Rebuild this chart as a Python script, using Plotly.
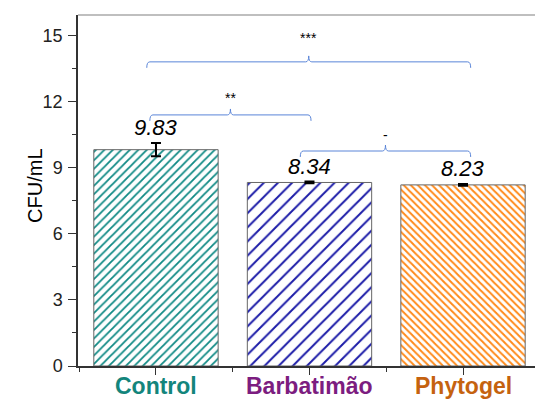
import plotly.graph_objects as go

categories = ["Control", "Barbatimão", "Phytogel"]
values = [9.83, 8.34, 8.23]
errors = [0.30, 0.04, 0.04]
label_colors = ["#13857C", "#7C1D80", "#C5620F"]
hatch_colors = ["#108A85", "#1C1CA8", "#FF8A1A"]
hatch_shapes = ["/", "/", "\\"]
hatch_sizes = [6, 10, 5]
hatch_solidity = [0.3, 0.2, 0.4]
# significance comparisons: (start x, end x, bracket level, label)
comparisons = [(-0.06, 2.05, 13.82, "***"), (-0.04, 1.01, 11.41, "**"), (0.94, 2.05, 9.77, "-")]
comparison_label_y = [14.9, 12.2, 10.5]
yticks = [0, 3, 6, 9, 12, 15]

xs = list(range(len(categories)))
fig = go.Figure()
for i in xs:
    fig.add_trace(go.Bar(
        x=[i], y=[values[i]], width=0.81,
        marker=dict(color="white",
                    line=dict(color="#666666", width=1),
                    pattern=dict(shape=hatch_shapes[i], fgcolor=hatch_colors[i],
                                 bgcolor="white", size=hatch_sizes[i],
                                 solidity=hatch_solidity[i],
                                 fgopacity=1, fillmode="replace")),
        error_y=dict(type="data", array=[errors[i]], color="black", thickness=2, width=5),
        showlegend=False, hoverinfo="skip"))
    fig.add_annotation(x=i, y=values[i] + errors[i], text=f"<i>{values[i]:.2f}</i>",
                       showarrow=False, yanchor="bottom", yshift=1,
                       font=dict(family="Arial, Liberation Sans", size=22, color="black"))
    fig.add_annotation(x=i, y=0, text=f"<b>{categories[i]}</b>", showarrow=False,
                       yanchor="top", yshift=-5,
                       font=dict(family="Arial, Liberation Sans", size=23, color=label_colors[i]))

bcol = "#5A85D8"
h = 0.27
r = 0.02
for (x0, x1, y, lab), ly in zip(comparisons, comparison_label_y):
    xc = (x0 + x1) / 2
    path = (f"M {x0},{y-h} Q {x0},{y} {x0+r},{y} L {xc-r},{y} Q {xc},{y} {xc},{y+h} "
            f"Q {xc},{y} {xc+r},{y} L {x1-r},{y} Q {x1},{y} {x1},{y-h}")
    fig.add_shape(type="path", path=path, xref="x", yref="y",
                  line=dict(color=bcol, width=1))
    fig.add_annotation(x=xc, y=ly, text=lab, showarrow=False,
                       font=dict(family="Arial, Liberation Sans", size=14, color="black"))

fig.add_shape(type="line", xref="paper", yref="paper", x0=0, x1=1, y0=1, y1=1,
              line=dict(color="#aaaaaa", width=1.5))

fig.update_layout(
    width=535, height=399,
    margin=dict(l=78, r=0, t=15, b=33),
    plot_bgcolor="white", paper_bgcolor="white",
    font=dict(family="Arial, Liberation Sans", color="#222222"),
    xaxis=dict(range=[-0.508, 2.469], tickvals=xs, showticklabels=False,
               automargin=False, showline=True, linecolor="#333333", linewidth=1.5,
               ticks="outside", ticklen=7, tickcolor="#333333", showgrid=False,
               zeroline=False,
               minor=dict(tickvals=[-0.5, 0.5, 1.5, 2.5], ticks="outside", ticklen=4,
                          tickcolor="#333333")),
    yaxis=dict(range=[0, 15.95], tickvals=yticks, tickfont=dict(size=18),
               automargin=False,
               showline=True, linecolor="#333333", linewidth=1.5,
               ticks="outside", ticklen=8, tickcolor="#333333", showgrid=False,
               zeroline=False, ticklabelstandoff=2,
               minor=dict(tickvals=[1.5, 4.5, 7.5, 10.5, 13.5], ticks="outside",
                          ticklen=4, tickcolor="#333333")),
)
fig.add_annotation(xref="paper", yref="paper", x=(22 - 78) / 457, y=0.513,
                   text="CFU/mL", textangle=-90, showarrow=False,
                   font=dict(family="Arial, Liberation Sans", size=20, color="black"))

fig.write_html("out.html", config={"displayModeBar": False},
               post_script="document.body.style.margin='0px';document.body.style.overflow='hidden';")
